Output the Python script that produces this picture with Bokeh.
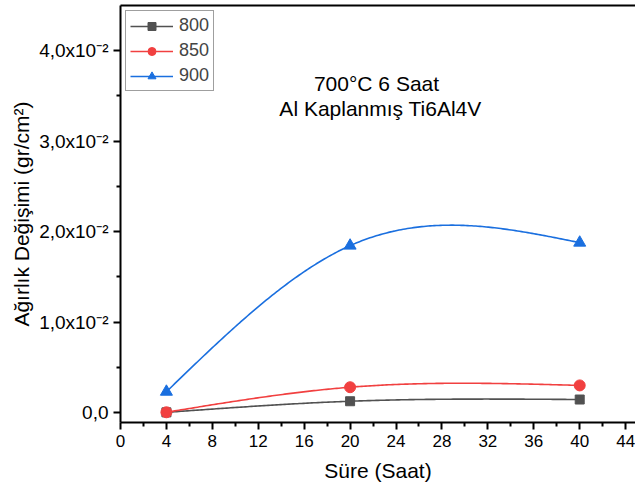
import numpy as np
from bokeh.plotting import figure
from bokeh.models import FixedTicker, LinearAxis, Label, Legend, LegendItem, Range1d
from bokeh.embed import file_html
from bokeh.resources import INLINE

# ---- data ----
hours = [4, 20, 40]
s800 = [0.00002, 0.00125, 0.00144]
s850 = [0.00003, 0.00280, 0.00300]
s900 = [0.00230, 0.01845, 0.01878]
series_names = ["800", "850", "900"]
x_ticks = list(range(0, 45, 4))
x_minor = list(range(2, 45, 4))
y_ticks = [0.0, 0.01, 0.02, 0.03, 0.04]
y_minor = [0.005, 0.015, 0.025, 0.035]
y_tick_labels = ["0,0", "1,0x10⁻²", "2,0x10⁻²", "3,0x10⁻²", "4,0x10⁻²"]
title_lines = ["700°C 6 Saat", "Al Kaplanmış Ti6Al4V"]
x_title = "Süre (Saat)"
y_title = "Ağırlık Değişimi (gr/cm²)"

FONT = "Liberation Sans"
colors = ["#515151", "#F14040", "#1A6FDF"]
markers = ["square", "circle", "triangle"]
sizes = [9, 11, 12]


def natural_spline(xs, ys, n=200):
    xs = np.asarray(xs, float)
    ys = np.asarray(ys, float)
    k = len(xs)
    h = np.diff(xs)
    A = np.zeros((k, k))
    b = np.zeros(k)
    A[0, 0] = 1
    A[-1, -1] = 1
    for i in range(1, k - 1):
        A[i, i - 1] = h[i - 1]
        A[i, i] = 2 * (h[i - 1] + h[i])
        A[i, i + 1] = h[i]
        b[i] = 6 * ((ys[i + 1] - ys[i]) / h[i] - (ys[i] - ys[i - 1]) / h[i - 1])
    M = np.linalg.solve(A, b)
    xx = np.linspace(xs[0], xs[-1], n)
    yy = np.empty_like(xx)
    for j, x in enumerate(xx):
        i = min(np.searchsorted(xs, x, side="right") - 1, k - 2)
        i = max(i, 0)
        a = xs[i + 1] - x
        c = x - xs[i]
        hi = h[i]
        yy[j] = (M[i] * a ** 3 / (6 * hi) + M[i + 1] * c ** 3 / (6 * hi)
                 + (ys[i] / hi - M[i] * hi / 6) * a + (ys[i + 1] / hi - M[i + 1] * hi / 6) * c)
    return xx, yy


p = figure(width=635, height=489, output_backend="svg", toolbar_location=None,
           x_range=Range1d(0, 44.86), y_range=Range1d(-0.0011, 0.0450),
           min_border_left=120, min_border_right=0, min_border_top=5, min_border_bottom=67)
p.grid.visible = False
p.outline_line_color = None
p.background_fill_color = "white"
p.border_fill_color = "white"

for ax in (p.xaxis[0], p.yaxis[0]):
    ax.axis_line_width = 2
    ax.axis_line_color = "black"
    ax.major_tick_line_width = 2
    ax.minor_tick_line_width = 2
    ax.major_tick_out = 7
    ax.major_tick_in = 0
    ax.minor_tick_out = 4
    ax.minor_tick_in = 0
    ax.major_label_text_font = FONT
    ax.major_label_text_color = "black"
    ax.axis_label_text_font = FONT
    ax.axis_label_text_font_size = "21px"
    ax.axis_label_text_font_style = "normal"
    ax.axis_label_text_color = "black"

p.xaxis.ticker = FixedTicker(ticks=x_ticks, minor_ticks=x_minor)
p.xaxis.major_label_text_font_size = "17px"
p.xaxis.major_label_standoff = 5
p.xaxis.axis_label = x_title
p.xaxis.axis_label_standoff = 9

p.yaxis.ticker = FixedTicker(ticks=y_ticks, minor_ticks=y_minor)
p.yaxis.major_label_text_font_size = "19px"
p.yaxis.major_label_standoff = 5
p.yaxis.major_label_overrides = {v: t for v, t in zip(y_ticks, y_tick_labels)}
p.yaxis.axis_label = y_title
p.yaxis.axis_label_standoff = 3

top = LinearAxis(ticker=FixedTicker(ticks=[]), axis_line_width=2, axis_line_color="black",
                 major_tick_out=0, minor_tick_out=0, major_tick_in=0, minor_tick_in=0,
                 major_label_standoff=0, major_label_text_font_size="0px")
p.add_layout(top, "above")

items = []
for name, ys, col, mk, sz in zip(series_names, [s800, s850, s900], colors, markers, sizes):
    xx, yy = natural_spline(hours, ys)
    l = p.line(xx, yy, line_color=col, line_width=1.6)
    s = p.scatter(hours, ys, marker=mk, size=sz, fill_color=col, line_color=col)
    items.append(LegendItem(label=name, renderers=[l, s]))

legend = Legend(items=items, location="top_left", margin=5,
                label_text_font=FONT, label_text_font_size="18px",
                glyph_width=43, glyph_height=20, label_height=20, spacing=4,
                padding=4, label_standoff=6,
                border_line_color="#404040", border_line_width=1,
                background_fill_color="white", background_fill_alpha=1.0)
p.add_layout(legend)

# in-plot title
p.add_layout(Label(x=22.3, y=0.03635, text=title_lines[0], text_align="center",
                   text_baseline="alphabetic", text_font=FONT, text_font_size="21px",
                   text_color="black"))
p.add_layout(Label(x=22.65, y=0.03359, text=title_lines[1], text_align="center",
                   text_baseline="alphabetic", text_font=FONT, text_font_size="21px",
                   text_color="black"))

open("out.html", "w").write(file_html(p, INLINE))
